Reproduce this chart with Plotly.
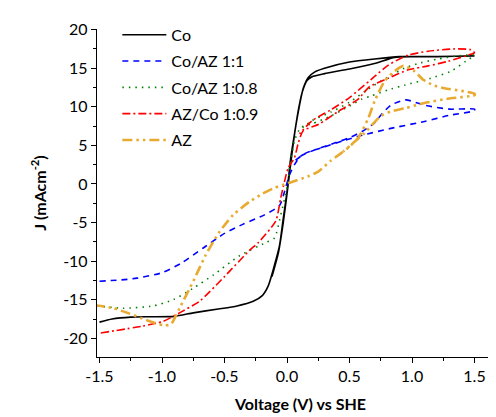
import plotly.graph_objects as go

# ---- data ----
co_v = [-1.5, -1.4, -1.25, -1.1, -0.9, -0.75, -0.55, -0.4, -0.27, -0.2, -0.15, -0.1, -0.06, -0.03, 0.0,
        0.03, 0.06, 0.09, 0.12, 0.16, 0.2, 0.3, 0.5, 0.7, 0.86, 1.0, 1.2, 1.5,
        1.2, 0.9, 0.7, 0.5, 0.3, 0.22, 0.17, 0.13, 0.1, 0.07, 0.04, 0.01, -0.03, -0.07, -0.12]
co_j = [-17.9, -17.5, -17.25, -17.2, -17.15, -16.7, -16.2, -15.8, -15.2, -14.5, -13.2, -10.5, -8.0, -4.5, -1.0,
        3.4, 6.5, 9.5, 11.8, 13.4, 13.9, 14.3, 14.9, 15.6, 16.4, 16.5, 16.5, 16.6,
        16.5, 16.5, 16.2, 15.8, 15.0, 14.5, 13.8, 12.4, 10.2, 7.5, 4.0, 0.0, -5.0, -9.0, -12.0]

b11_v = [-1.5, -1.3, -1.2, -1.0, -0.85, -0.67, -0.5, -0.35, -0.18, -0.06, -0.02, 0.02, 0.06, 0.11, 0.22,
         0.38, 0.5, 0.6, 0.7, 0.75, 0.83, 0.95, 1.1, 1.3, 1.5,
         1.5, 1.3, 1.1, 0.83, 0.6, 0.45, 0.3, 0.15, 0.06]
b11_j = [-12.6, -12.4, -12.2, -11.5, -10.3, -8.3, -6.4, -5.2, -4.0, -2.8, -1.0, 1.2, 2.5, 3.6, 4.4,
         5.3, 6.0, 6.8, 7.9, 8.9, 10.2, 10.9, 10.2, 9.7, 9.7,
         9.5, 8.9, 8.1, 7.2, 6.3, 5.6, 4.8, 4.0, 3.0]

g08_v = [-1.52, -1.31, -1.07, -0.91, -0.75, -0.59, -0.38, -0.17, -0.1, -0.05, 0.0, 0.03, 0.06, 0.11, 0.2,
         0.35, 0.5, 0.6, 0.67, 0.81, 0.94, 1.15, 1.31, 1.43, 1.5,
         1.37, 1.21, 1.07, 0.94, 0.8, 0.65, 0.5, 0.35, 0.2, 0.1]
g08_j = [-15.8, -16.1, -15.8, -15.0, -13.5, -11.8, -9.3, -7.6, -7.0, -4.0, -0.5, 3.0, 5.6, 7.3, 7.8,
         8.8, 10.1, 11.0, 11.4, 12.2, 12.8, 13.7, 14.6, 15.9, 16.7,
         16.6, 16.2, 15.7, 15.0, 13.8, 12.3, 10.6, 9.3, 8.2, 7.0]

r09_v = [-1.49, -1.15, -0.99, -0.86, -0.7, -0.5, -0.3, -0.23, -0.09, -0.05, 0.01, 0.06, 0.09, 0.13, 0.25,
         0.41, 0.57, 0.66, 0.81, 0.97, 1.13, 1.29, 1.45, 1.5,
         1.47, 1.34, 1.13, 0.97, 0.81, 0.67, 0.5, 0.35, 0.2, 0.1]
r09_j = [-19.3, -18.4, -17.8, -16.7, -15.2, -12.0, -8.6, -7.6, -4.8, -1.8, 2.1, 3.4, 5.3, 6.9, 7.7,
         9.4, 11.0, 12.6, 13.7, 14.8, 15.3, 15.9, 16.7, 17.0,
         17.4, 17.5, 17.2, 16.7, 15.4, 13.5, 11.2, 9.6, 8.2, 6.5]

az_v = [-1.54, -1.39, -1.26, -1.13, -0.99, -0.93, -0.86, -0.75, -0.65, -0.54, -0.43, -0.3, -0.2, -0.1, 0.01,
        0.17, 0.25, 0.35, 0.49, 0.57, 0.65, 0.7, 0.78, 0.86, 0.93, 1.02, 1.09, 1.17, 1.26, 1.42, 1.5,
        1.5, 1.31, 1.1, 0.94, 0.83, 0.75, 0.62, 0.55, 0.45]
az_j = [-15.7, -16.1, -16.8, -17.6, -18.3, -18.2, -16.1, -12.6, -9.2, -6.2, -4.0, -2.3, -1.3, -0.5, 0.1,
        1.0, 1.6, 3.0, 4.7, 6.0, 8.5, 10.7, 13.3, 14.6, 15.3, 14.6, 13.5, 12.8, 12.4, 12.0, 11.7,
        11.5, 11.1, 10.5, 9.8, 9.4, 8.8, 6.6, 5.6, 4.2]

series_names = ["Co", "Co/AZ 1:1", "Co/AZ 1:0.8", "AZ/Co 1:0.9", "AZ"]

x_tickvals = [-1.5, -1.0, -0.5, 0.0, 0.5, 1.0, 1.5]
x_ticktext = ["-1.5", "-1.0", "-0.5", "0.0", "0.5", "1.0", "1.5"]
y_tickvals = [-20, -15, -10, -5, 0, 5, 10, 15, 20]
y_ticktext = ["-20", "-15", "-10", "-5", "0", "5", "10", "15", "20"]

# ---- styles ----
styles = [
    dict(color="#000000", width=1.6, dash="solid"),
    dict(color="#0000FF", width=1.6, dash="6px,5px"),
    dict(color="#008000", width=1.6, dash="1.5px,5px"),
    dict(color="#FF0000", width=1.6, dash="8px,3px,2px,3px"),
    dict(color="#E8AA30", width=2.6, dash="10px,4px,2.5px,4px,2.5px,4px"),
]
data = [(co_v, co_j), (b11_v, b11_j), (g08_v, g08_j), (r09_v, r09_j), (az_v, az_j)]

FONT = "Lato, 'Open Sans', sans-serif"
fig = go.Figure()
for i, ((v, j), name, st) in enumerate(zip(data, series_names, styles)):
    fig.add_trace(go.Scatter(x=v, y=j, mode="lines", name=name, legendgroup=f"g{i}",
                             line=dict(color=st["color"], width=st["width"], dash=st["dash"],
                                       shape="spline", smoothing=0.6)))

fig.update_layout(
    width=496, height=417,
    margin=dict(l=89, r=0, t=21, b=68),
    paper_bgcolor="white", plot_bgcolor="white",
    font=dict(family=FONT, size=16, color="black"),
    showlegend=True,
    legend=dict(x=0.05, y=1.034, xanchor="left", yanchor="top", bgcolor="rgba(0,0,0,0)",
                font=dict(size=16), tracegroupgap=2.5, itemwidth=44),
    xaxis=dict(range=[-1.52, 1.736], showgrid=False, zeroline=False, showline=True,
               linecolor="black", linewidth=1.3, ticks="outside", ticklen=5, tickwidth=1.2,
               tickcolor="black", tickvals=x_tickvals, ticktext=x_ticktext,
               minor=dict(dtick=0.25, tick0=-1.5, ticks="outside", ticklen=3, tickcolor="black", tickwidth=1.2),
               title=dict(text="<b>Voltage (V) vs SHE</b>", font=dict(size=16), standoff=14)),
    yaxis=dict(range=[-22.42, 20.08], showgrid=False, zeroline=False, showline=True,
               linecolor="black", linewidth=1.3, ticks="outside", ticklen=5, tickwidth=1.2,
               tickcolor="black", tickvals=y_tickvals, ticktext=y_ticktext,
               minor=dict(dtick=2.5, tick0=0, ticks="outside", ticklen=3, tickcolor="black", tickwidth=1.2),
               title=dict(text="<b>J (mAcm<sup>-2</sup>)</b>", font=dict(size=16), standoff=12)),
)

fig.write_html("out.html")
